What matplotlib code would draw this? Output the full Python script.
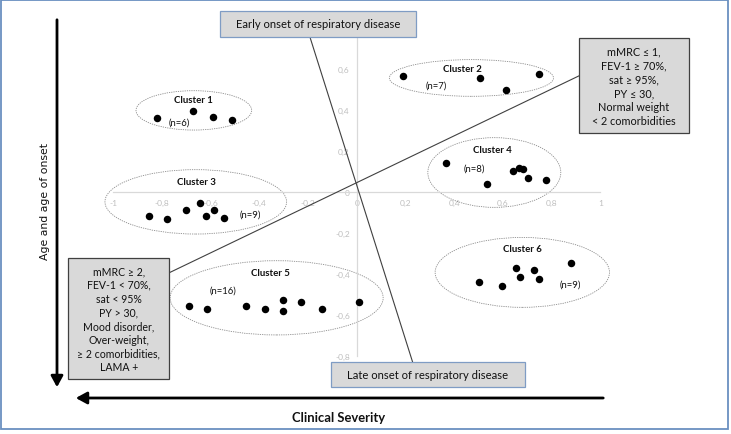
import matplotlib
matplotlib.use("Agg")
import matplotlib.pyplot as plt
from matplotlib.patches import Ellipse, Rectangle, FancyArrowPatch
from matplotlib.ticker import FuncFormatter, FixedLocator

# ---------------- data ----------------
cluster_names = ["Cluster 1", "Cluster 2", "Cluster 3", "Cluster 4", "Cluster 5", "Cluster 6"]
cluster_n = ["(n=6)", "(n=7)", "(n=9)", "(n=8)", "(n=16)", "(n=9)"]

c1_x = [-0.821, -0.671, -0.589, -0.513]
c1_y = [0.362, 0.395, 0.364, 0.353]
c2_x = [0.191, 0.506, 0.749, 0.612]
c2_y = [0.567, 0.556, 0.574, 0.498]
c3_x = [-0.853, -0.778, -0.702, -0.642, -0.619, -0.585, -0.545]
c3_y = [-0.117, -0.130, -0.086, -0.054, -0.116, -0.089, -0.128]
c4_x = [0.367, 0.534, 0.641, 0.668, 0.684, 0.702, 0.777]
c4_y = [0.143, 0.040, 0.102, 0.117, 0.112, 0.070, 0.057]
c5_x = [-0.687, -0.614, -0.455, -0.377, -0.301, -0.301, -0.228, -0.143, 0.009]
c5_y = [-0.558, -0.571, -0.558, -0.569, -0.525, -0.580, -0.535, -0.569, -0.535]
c6_x = [0.503, 0.595, 0.655, 0.672, 0.729, 0.747, 0.881]
c6_y = [-0.440, -0.457, -0.369, -0.413, -0.380, -0.424, -0.348]

x_ticks = [-1, -0.8, -0.6, -0.4, -0.2, 0, 0.2, 0.4, 0.6, 0.8, 1]
y_ticks = [-0.8, -0.6, -0.4, -0.2, 0, 0.2, 0.4, 0.6]

right_box_text = "mMRC \u2264 1,\nFEV-1 \u2265 70%,\nsat \u2265 95%,\nPY \u2264 30,\nNormal weight\n< 2 comorbidities"
left_box_text = ("mMRC \u2265 2,\nFEV-1 < 70%,\nsat < 95%\nPY > 30,\nMood disorder,\n"
                 "Over-weight,\n\u2265 2 comorbidities,\nLAMA +")
early_text = "Early onset of respiratory disease"
late_text = "Late onset of respiratory disease"
y_title = "Age and age of onset"
x_title = "Clinical Severity"

# ---------------- layout ----------------
W, H = 731, 435
FONT = ["Lato", "DejaVu Sans"]
plt.rcParams["font.family"] = FONT

fig = plt.figure(figsize=(W / 100, H / 100), dpi=100)
fig.patch.set_facecolor("white")


def fx(p):
    return p / W


def fy(p):
    return 1 - p / H


ax = fig.add_axes([0, 0, 1, 1])
ax.set_facecolor("none")
ax.set_xlim(-1.465, 1.537)
ax.set_ylim(-1.180, 0.941)

for s in ["top", "right"]:
    ax.spines[s].set_visible(False)
ax.spines["left"].set_position("zero")
ax.spines["bottom"].set_position("zero")
ax.spines["bottom"].set_bounds(-1, 1)
ax.spines["left"].set_bounds(-0.8, 0.8)
for s in ["left", "bottom"]:
    ax.spines[s].set_color("#D9D9D9")
    ax.spines[s].set_linewidth(0.9)

fmt = FuncFormatter(lambda v, p: f"{v:g}".replace(".", ","))
ax.xaxis.set_major_locator(FixedLocator(x_ticks))
ax.yaxis.set_major_locator(FixedLocator(y_ticks))
ax.xaxis.set_major_formatter(fmt)
ax.yaxis.set_major_formatter(fmt)
ax.tick_params(axis="both", length=0, labelsize=6.0, labelcolor="#BFBFBF", pad=5)

# cluster ellipses (center x, center y, width, height)
ellipses = [(-0.669, 0.398, 0.475, 0.192),
            (0.471, 0.556, 0.674, 0.179),
            (-0.661, -0.048, 0.746, 0.314),
            (0.565, 0.095, 0.546, 0.340),
            (-0.329, -0.516, 0.875, 0.362),
            (0.680, -0.392, 0.716, 0.341)]
for (cx, cy, w, h) in ellipses:
    ax.add_patch(Ellipse((cx, cy), w, h, fill=False, edgecolor="#8C8C8C",
                         linewidth=0.6, linestyle=(0, (1.5, 1.2)), zorder=2))

# cluster points
for xs, ys in [(c1_x, c1_y), (c2_x, c2_y), (c3_x, c3_y),
               (c4_x, c4_y), (c5_x, c5_y), (c6_x, c6_y)]:
    ax.plot(xs, ys, "o", color="black", markersize=5.4, markeredgewidth=0, zorder=4)

# cluster labels and counts
name_pos = [(-0.671, 0.450), (0.435, 0.603), (-0.660, 0.052),
            (0.558, 0.205), (-0.356, -0.392), (0.682, -0.275)]
n_pos = [(-0.728, 0.340), (0.326, 0.522), (-0.438, -0.107),
         (0.482, 0.119), (-0.548, -0.477), (0.876, -0.449)]
for name, (tx, ty) in zip(cluster_names, name_pos):
    ax.text(tx, ty, name, fontsize=6.9, fontweight="bold", ha="center", va="center",
            color="#111111", zorder=4)
for n, (tx, ty) in zip(cluster_n, n_pos):
    ax.text(tx, ty, n, fontsize=6.8, ha="center", va="center", color="#111111", zorder=4)

# connecting lines
ax.plot([-0.196, 0.231], [0.770, -0.835], color="#404040", linewidth=0.8, zorder=3)
ax.plot([-0.767, 0.914], [-0.392, 0.567], color="#404040", linewidth=0.8, zorder=3)


def box(x0, y0, x1, y1, text, edge, fs, ls=1.2):
    r = Rectangle((fx(x0), fy(y1)), fx(x1) - fx(x0), fy(y0) - fy(y1),
                  transform=fig.transFigure, facecolor="#D9D9D9", edgecolor=edge,
                  linewidth=0.9, zorder=6)
    ax.add_patch(r)
    ax.text(fx((x0 + x1) / 2), fy((y0 + y1) / 2), text, transform=fig.transFigure,
            ha="center", va="center", fontsize=fs, linespacing=ls, color="#111111",
            zorder=7, family=FONT)


box(219.6, 12.3, 415.9, 37.7, early_text, "#7F9CC4", 8.1)
box(331, 363.3, 525, 388.3, late_text, "#7F9CC4", 8.1)
box(578.5, 39.3, 689, 134.3, right_box_text, "#404040", 7.8, 1.34)
box(68.3, 259.3, 169.3, 380, left_box_text, "#404040", 7.6, 1.3)

# big arrows
arr_v = FancyArrowPatch((fx(57), fy(18)), (fx(57), fy(391)), transform=fig.transFigure,
                        arrowstyle="-|>,head_length=0.55,head_width=0.3", mutation_scale=12,
                        color="black", linewidth=2.0, zorder=6)
arr_h = FancyArrowPatch((fx(606), fy(399)), (fx(73), fy(399)), transform=fig.transFigure,
                        arrowstyle="-|>,head_length=0.55,head_width=0.3", mutation_scale=12,
                        color="black", linewidth=2.0, zorder=6)
fig.patches.extend([arr_v, arr_h])

fig.text(fx(45), fy(202), y_title, rotation=90, ha="center", va="center",
         fontsize=7.8, family="DejaVu Sans", color="#111111")
fig.text(fx(339), fy(418), x_title, ha="center", va="center", fontsize=9.4,
         fontweight="bold", color="#111111")

# outer frame
fig.patches.append(Rectangle((fx(1), fy(430)), fx(727), 429 / H, transform=fig.transFigure,
                             fill=False, edgecolor="#6A90C0", linewidth=1.3, zorder=10))

fig.savefig("out.png", dpi=100)
